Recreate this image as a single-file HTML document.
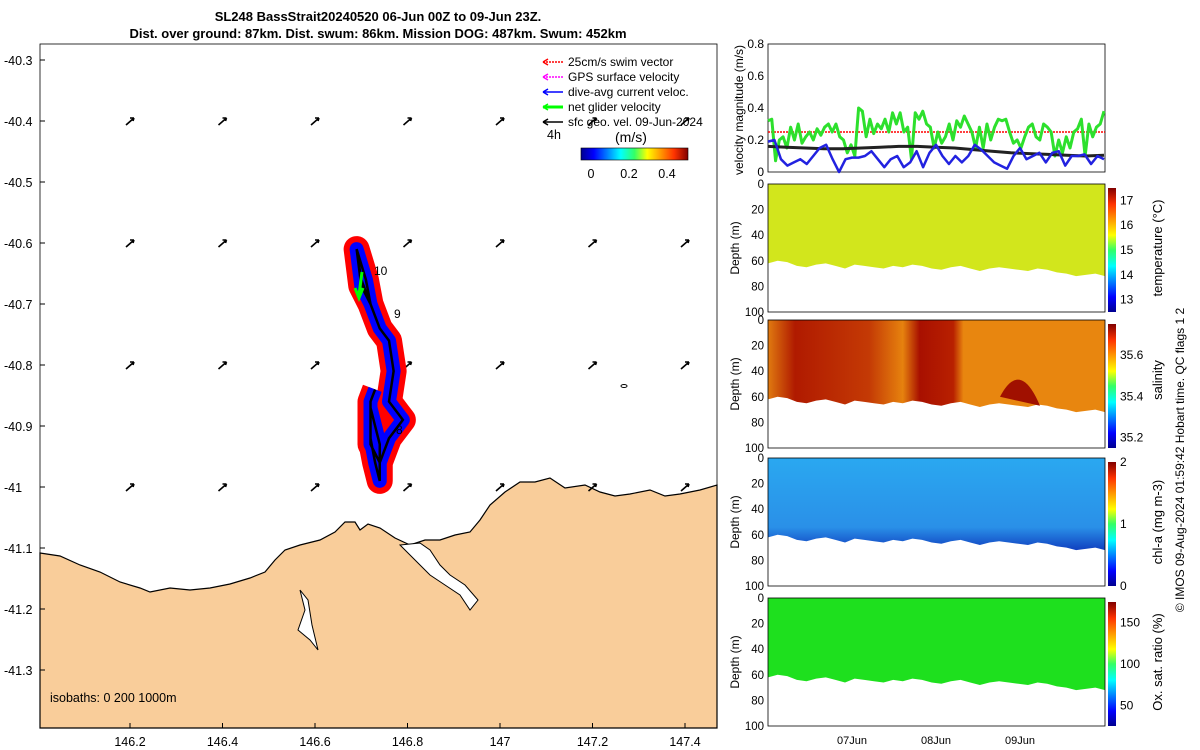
<!DOCTYPE html>
<html><head><meta charset="utf-8">
<style>
body{margin:0;background:#fff;}
svg{display:block;font-family:"Liberation Sans",sans-serif;}
</style></head>
<body>
<svg id="fig" width="1200" height="750" viewBox="0 0 1200 750" xmlns="http://www.w3.org/2000/svg">
<defs>
<linearGradient id="jet" x1="0" x2="1" y1="0" y2="0">
<stop offset="0" stop-color="#00008f"/><stop offset="0.12" stop-color="#0000ff"/><stop offset="0.37" stop-color="#00ffff"/><stop offset="0.5" stop-color="#33ff66"/><stop offset="0.62" stop-color="#ffff00"/><stop offset="0.87" stop-color="#ff3300"/><stop offset="1" stop-color="#800000"/>
</linearGradient>
<linearGradient id="jetv" x1="0" x2="0" y1="1" y2="0">
<stop offset="0" stop-color="#00008f"/><stop offset="0.12" stop-color="#0000ff"/><stop offset="0.37" stop-color="#00ffff"/><stop offset="0.5" stop-color="#33ff66"/><stop offset="0.62" stop-color="#ffff00"/><stop offset="0.87" stop-color="#ff3300"/><stop offset="1" stop-color="#800000"/>
</linearGradient>
<linearGradient id="salg" x1="0" x2="1" y1="0" y2="0">
<stop offset="0" stop-color="#e07a10"/><stop offset="0.08" stop-color="#b01a00"/><stop offset="0.3" stop-color="#c43a05"/><stop offset="0.4" stop-color="#e6820e"/><stop offset="0.45" stop-color="#a81000"/><stop offset="0.55" stop-color="#b82000"/><stop offset="0.58" stop-color="#e8860f"/><stop offset="1" stop-color="#e8860f"/>
</linearGradient>
<linearGradient id="chlg" x1="0" x2="0" y1="0" y2="1">
<stop offset="0" stop-color="#2aa8f0"/><stop offset="0.75" stop-color="#2a90e8"/><stop offset="1" stop-color="#1040c0"/>
</linearGradient>
</defs>
<g id="map"></g>
<g id="right"></g>
</svg>
<script>
// ===== data =====
const latTicks = [-40.3,-40.4,-40.5,-40.6,-40.7,-40.8,-40.9,-41,-41.1,-41.2,-41.3];
const lonTicks = [146.2,146.4,146.6,146.8,147,147.2,147.4];
const arrowLons = [146.2,146.4,146.6,146.8,147,147.2,147.4];
const arrowLats = [-40.4,-40.6,-40.8,-41];
const trackLon = [146.69,146.7,146.72,146.71,146.69,146.7,146.74,146.76,146.77,146.76,146.78,146.79,146.76,146.74,146.74,146.73,146.72,146.72,146.73,146.74,146.74,146.72,146.72,146.73];
const trackLat = [-40.61,-40.67,-40.7,-40.66,-40.61,-40.66,-40.74,-40.76,-40.81,-40.86,-40.88,-40.89,-40.92,-40.96,-40.99,-40.96,-40.92,-40.87,-40.9,-40.93,-40.96,-40.93,-40.86,-40.84];
const velTimes = []; // filled below by index (days)
const greenVel = [0.32,0.33,0.07,0.2,0.22,0.15,0.28,0.2,0.3,0.18,0.22,0.25,0.2,0.27,0.23,0.28,0.3,0.25,0.3,0.22,0.2,0.12,0.17,0.1,0.4,0.38,0.22,0.33,0.24,0.3,0.27,0.33,0.25,0.37,0.3,0.37,0.25,0.28,0.08,0.37,0.33,0.38,0.3,0.28,0.15,0.25,0.18,0.22,0.3,0.2,0.32,0.28,0.35,0.3,0.25,0.15,0.28,0.15,0.3,0.2,0.28,0.33,0.32,0.33,0.25,0.18,0.2,0.15,0.22,0.28,0.3,0.22,0.2,0.3,0.28,0.25,0.1,0.2,0.12,0.22,0.15,0.25,0.27,0.33,0.1,0.3,0.22,0.28,0.3,0.38];
const blueVel = [0.19,0.2,0.08,0.04,0.06,0.08,0.05,0.1,0.15,0.17,0.08,0,0.08,0.09,0.09,0.1,0.13,0.08,0.03,0.08,0.1,0.03,0.06,0.13,0.03,0.12,0.17,0.1,0.05,0.1,0.06,0.1,0.17,0.14,0.1,0.06,0.04,0.02,0.1,0.15,0.08,0.1,0.12,0.06,0.12,0.13,0.04,0.1,0.1,0.11,0.05,0.1,0.08];
const blackVel = [0.16,0.155,0.15,0.145,0.145,0.15,0.155,0.16,0.16,0.155,0.15,0.14,0.13,0.12,0.115,0.11,0.105,0.1,0.105];
const swimVel = 0.25;
const velTicks = [0,0.2,0.4,0.6,0.8];
const dayTicks = ["07Jun","08Jun","09Jun"];
const bottomDepth = [62,60,61,64,65,63,62,64,66,63,64,65,66,64,65,63,64,66,67,65,64,66,68,66,65,66,67,68,66,67,69,70,72,71,70,72];
const depthTicks = [0,20,40,60,80,100];
const tempTicks = [13,14,15,16,17];
const salTicks = [35.2,35.4,35.6];
const chlTicks = [0,1,2];
const oxTicks = [50,100,150];
const mapCbTicks = [0,0.2,0.4];

// ===== helpers =====
const NS="http://www.w3.org/2000/svg";
function mk(parent,tag,attrs,txt){const e=document.createElementNS(NS,tag);for(const k in attrs)e.setAttribute(k,attrs[k]);if(txt!==undefined)e.textContent=txt;parent.appendChild(e);return e;}
const map=document.getElementById('map'), right=document.getElementById('right'), fig=document.getElementById('fig');
const lonX=l=>130+(l-146.2)*462.5;
const latY=a=>60+(-40.3-a)*610;

// title
let t=mk(fig,'text',{x:378,y:21,'text-anchor':'middle','font-size':13,'font-weight':'bold'},'SL248 BassStrait20240520 06-Jun 00Z to 09-Jun 23Z.');


t=mk(fig,'text',{x:378,y:38,'text-anchor':'middle','font-size':13,'font-weight':'bold'},'Dist. over ground: 87km. Dist. swum: 86km. Mission DOG: 487km. Swum: 452km');



// land
const land=mk(map,'path',{d:'M40,553 L60,556 L80,565 L100,572 L120,582 L140,588 L150,592 L170,588 L190,590 L210,588 L230,584 L250,578 L265,572 L275,560 L285,550 L300,545 L320,540 L335,532 L345,522 L355,522 L360,530 L368,524 L380,528 L395,538 L410,545 L425,540 L440,540 L455,535 L470,532 L480,520 L490,505 L505,492 L520,482 L535,482 L550,478 L565,488 L585,485 L600,492 L615,496 L630,494 L650,490 L665,496 L680,494 L700,490 L717,485 L717,728 L40,728 Z',fill:'#f9cd9a',stroke:'#000','stroke-width':1.2});


const bay=mk(map,'path',{d:'M400,545 L415,560 L430,575 L445,585 L460,595 L470,610 L478,600 L465,585 L450,575 L440,565 L430,550 L420,543 Z M300,590 L305,610 L298,630 L310,640 L318,650 L312,625 L308,600 Z',fill:'#fff',stroke:'#000','stroke-width':1});



// axes box
const box=mk(map,'rect',{x:40,y:44,width:677,height:684,fill:'none',stroke:'#000','stroke-width':0.8});


latTicks.forEach(v=>{const y=latY(v);
 const tx=mk(map,'text',{x:4,y:y+5,'font-size':12.5},String(v));
 
 
 mk(map,'line',{x1:40,x2:45,y1:y,y2:y,stroke:'#000'});});
lonTicks.forEach(v=>{const x=lonX(v);
 const tx=mk(map,'text',{x:x,y:746,'font-size':12.5,'text-anchor':'middle'},String(v));
 
 
 mk(map,'line',{x1:x,x2:x,y1:728,y2:723,stroke:'#000'});});
t=mk(map,'text',{x:50,y:702,'font-size':12.5},'isobaths: 0   200  1000m');



// current arrows
arrowLats.forEach(a=>arrowLons.forEach(l=>{
 const x=lonX(l),y=latY(a);
 const ar=mk(map,'path',{d:`M${x-4},${y+4} L${x+4},${y-3} M${x+4},${y-3} l-4,0 M${x+4},${y-3} l-1,3`,stroke:'#000','stroke-width':1.6,fill:'none'});
 
 
}));

// track
const tp=trackLon.map((l,i)=>[lonX(l),latY(trackLat[i])]);
const ptsStr=tp.map(p=>p.join(',')).join(' ');
let el=mk(map,'polyline',{points:ptsStr,fill:'none',stroke:'#f00','stroke-width':26,'stroke-linejoin':'round'});


el=mk(map,'polyline',{points:ptsStr,fill:'none',stroke:'#00f','stroke-width':14,'stroke-linejoin':'round'});


el=mk(map,'polyline',{points:ptsStr,fill:'none',stroke:'#000','stroke-width':2.5});


el=mk(map,'path',{d:'M362,272 L359,295 M355,288 L359,298 L363,288',stroke:'#0f0','stroke-width':3,fill:'none'});


[['10',374,275],['9',394,318],['8',396,434]].forEach(d=>{const l=mk(map,'text',{x:d[1],y:d[2],'font-size':12},d[0]);
 
 });
el=mk(map,'ellipse',{cx:624,cy:386,rx:3,ry:1.5,fill:'none',stroke:'#000'});



// legend
const leg=[['#f00','25cm/s swim vector'],['#f0f','GPS surface velocity'],['#00f','dive-avg current veloc.'],['#0f0','net glider velocity'],['#000','sfc geo. vel. 09-Jun-2024']];
leg.forEach((d,i)=>{const y=62+i*15;
 const g=mk(map,'g',{});
 
 
 mk(g,'line',{x1:543,x2:563,y1:y,y2:y,stroke:d[0],'stroke-width':i==3?3:1.5,'stroke-dasharray':(i<2?'2,1':'')});
 mk(g,'path',{d:`M543,${y} l5,-3 M543,${y} l5,3`,stroke:d[0],'stroke-width':1.5});
 mk(g,'text',{x:568,y:y+4,'font-size':12},d[1]);});
t=mk(map,'text',{x:547,y:139,'font-size':12.5},'4h');


t=mk(map,'text',{x:615,y:142,'font-size':14},'(m/s)');


el=mk(map,'rect',{x:581,y:148,width:107,height:12,fill:'url(#jet)',stroke:'#000','stroke-width':0.6});


mapCbTicks.forEach(v=>{const x=591+v*190;
 const tx=mk(map,'text',{x:x,y:178,'font-size':12.5,'text-anchor':'middle'},String(v));
 
 });

// ===== velocity panel =====
const VX0=768,VX1=1105,VY0=172,VY1=44;
const vy=v=>VY0-(v/0.8)*(VY0-VY1);
const dx=d=>VX0+d*84; // d in days
el=mk(right,'rect',{x:VX0,y:VY1,width:VX1-VX0,height:VY0-VY1,fill:'#fff',stroke:'#000','stroke-width':0.8});


velTicks.forEach(v=>{const tx=mk(right,'text',{x:764,y:vy(v)+4,'font-size':12,'text-anchor':'end'},String(v));
 
 });
t=mk(right,'text',{x:0,y:0,'font-size':12,'text-anchor':'middle',transform:'translate(743,110) rotate(-90)'},'velocity magnitude (m/s)');


function series(arr,color,w,name){const n=arr.length;
 const p=arr.map((v,i)=>[dx(i/(n-1)*4),vy(v)].join(',')).join(' ');
 const s=mk(right,'polyline',{points:p,fill:'none',stroke:color,'stroke-width':w,'stroke-linejoin':'round'});
 
 }
el=mk(right,'line',{x1:VX0,x2:VX1,y1:vy(swimVel),y2:vy(swimVel),stroke:'#f00','stroke-width':1.5,'stroke-dasharray':'2,1'});


series(greenVel,'#2de02d',3,'net-glider-velocity-line');
series(blackVel,'#222',3,'sfc-geo-velocity-line');
series(blueVel,'#2222e0',2.5,'dive-avg-velocity-line');

// ===== depth panels =====
const panels=[
 {y0:184,fill:'#d2e61c',cb:'temperature (°C)',ticks:tempTicks,lo:12.5,hi:17.5,name:'temperature'},
 {y0:320,fill:'url(#salg)',cb:'salinity',ticks:salTicks,lo:35.15,hi:35.75,name:'salinity'},
 {y0:458,fill:'url(#chlg)',cb:'chl-a (mg m-3)',ticks:chlTicks,lo:0,hi:2,name:'chl-a'},
 {y0:598,fill:'#1ee01e',cb:'Ox. sat. ratio (%)',ticks:oxTicks,lo:25,hi:175,name:'oxygen'}];
panels.forEach((P,pi)=>{
 const H=128,y1=P.y0+H;
 const dy=d=>P.y0+d/100*H;
 const g=mk(right,'g',{});
 
 
 const n=bottomDepth.length;
 let d=`M${VX0},${P.y0} L${VX1},${P.y0} `;
 for(let i=n-1;i>=0;i--)d+=`L${VX0+i/(n-1)*(VX1-VX0)},${dy(bottomDepth[i])} `;
 d+='Z';
 const f=mk(g,'path',{d:d,fill:P.fill});
 
 
 if(pi==1){const s=mk(g,'path',{d:`M1000,${dy(60)} Q1020,${dy(30)} 1040,${dy(67)} Z`,fill:'#a01000'});
  
  }
 mk(g,'rect',{x:VX0,y:P.y0,width:VX1-VX0,height:H,fill:'none',stroke:'#000','stroke-width':0.8});
 depthTicks.forEach(v=>{const tx=mk(g,'text',{x:764,y:dy(v)+4,'font-size':11.5,'text-anchor':'end'},String(v));
  
  });
 const yt=mk(g,'text',{x:0,y:0,'font-size':12,'text-anchor':'middle',transform:`translate(739,${P.y0+64}) rotate(-90)`},'Depth (m)');
 
 
 const cb=mk(g,'rect',{x:1108,y:P.y0+4,width:8,height:H-4,fill:'url(#jetv)'});
 
 
 P.ticks.forEach(v=>{const y=P.y0+H-(v-P.lo)/(P.hi-P.lo)*(H-4);
  const tx=mk(g,'text',{x:1120,y:y+4,'font-size':12},String(v));
  
  });
 const ct=mk(g,'text',{x:0,y:0,'font-size':13,'text-anchor':'middle',transform:`translate(1162,${P.y0+(pi==1?60:64)}) rotate(-90)`},P.cb);
 
 
});
dayTicks.forEach((s,i)=>{const tx=mk(right,'text',{x:dx(i+1),y:744,'font-size':11,'text-anchor':'middle'},s);
 
 });
t=mk(right,'text',{x:0,y:0,'font-size':12,'text-anchor':'middle',transform:'translate(1184,460) rotate(-90)'},'© IMOS 09-Aug-2024 01:59:42 Hobart time. QC flags 1  2');


</script>
</body></html>
